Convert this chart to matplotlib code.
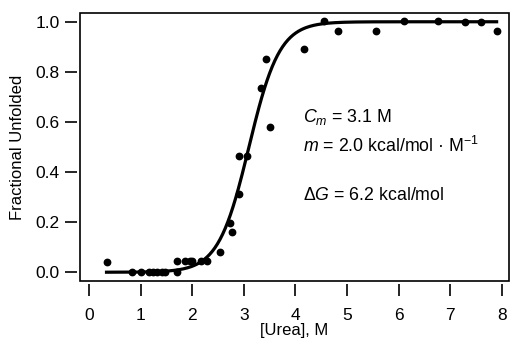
import numpy as np
import matplotlib
matplotlib.use("Agg")
import matplotlib.pyplot as plt
from matplotlib.patches import Rectangle

plt.rcParams["font.family"] = ["Liberation Sans", "DejaVu Sans"]
plt.rcParams["mathtext.fontset"] = "custom"
plt.rcParams["mathtext.rm"] = "Liberation Sans"
plt.rcParams["mathtext.it"] = "Liberation Sans:italic"

# measured points
urea = [0.34, 0.83, 1.00, 1.17, 1.25, 1.32, 1.41, 1.47, 1.70,
        1.71, 1.86, 1.95, 2.00, 2.18, 2.28, 2.54, 2.73, 2.78, 2.91,
        2.91, 3.07, 3.33, 3.44, 3.51, 4.17, 4.56, 4.83, 5.56, 6.10,
        6.77, 7.29, 7.59, 7.90]
frac = [0.041, 0.0, 0.0, 0.0, 0.0, 0.0, 0.0, 0.0, 0.0,
        0.044, 0.044, 0.044, 0.044, 0.044, 0.044, 0.081, 0.197, 0.159, 0.312,
        0.465, 0.465, 0.735, 0.850, 0.579, 0.890, 1.005, 0.964, 0.964, 1.003,
        1.003, 1.0, 1.0, 0.964]

# two-state fit parameters
cm = 3.1
m_val = 2.0
dG = 6.2
RT = 0.593

xfit = np.linspace(0.34, 7.9, 300)
yfit = 1.0 / (1.0 + np.exp(m_val * (cm - xfit) / RT))

fig = plt.figure(figsize=(5.26, 3.51), dpi=100)
ax = fig.add_axes([80/526, 1 - 281/351, 429/526, 268/351])

ax.plot(xfit, yfit, color="black", lw=2.3, zorder=2)
ax.plot(urea, frac, "o", color="black", ms=4.6, mec="black", zorder=3)

ax.set_xlim(-0.174, 8.14)
ax.set_ylim(-0.035, 1.035)
ax.set_xticks(range(0, 9))
ax.set_yticks([0.0, 0.2, 0.4, 0.6, 0.8, 1.0])
ax.set_yticklabels(["0.0", "0.2", "0.4", "0.6", "0.8", "1.0"])

# detached ticks, box drawn separately
for s in ["left", "bottom"]:
    ax.spines[s].set_position(("outward", 2))
for s in ax.spines.values():
    s.set_visible(False)
ax.add_patch(Rectangle((0, 0), 1, 1, transform=ax.transAxes, fill=False,
                       lw=1.2, ec="black", clip_on=False, zorder=4))

ax.tick_params(direction="out", length=8.5, width=1.2, labelsize=12.5,
               color="black")
ax.tick_params(axis="x", pad=9)
ax.tick_params(axis="y", pad=4)

ax.set_xlabel("[Urea], M", fontsize=12, labelpad=0)
ax.set_ylabel("Fractional Unfolded", fontsize=12, labelpad=8)

ax.text(4.15, 0.60, r"$C_m$ = %.1f M" % cm, fontsize=12.8)
ax.text(4.15, 0.482, r"$m$ = %.1f kcal/mol · M$^{\mathrm{-1}}$" % m_val,
        fontsize=12.8)
ax.text(4.15, 0.29, "Δ$G$ = %.1f kcal/mol" % dG, fontsize=12.8)

plt.savefig("out.png", dpi=100)
